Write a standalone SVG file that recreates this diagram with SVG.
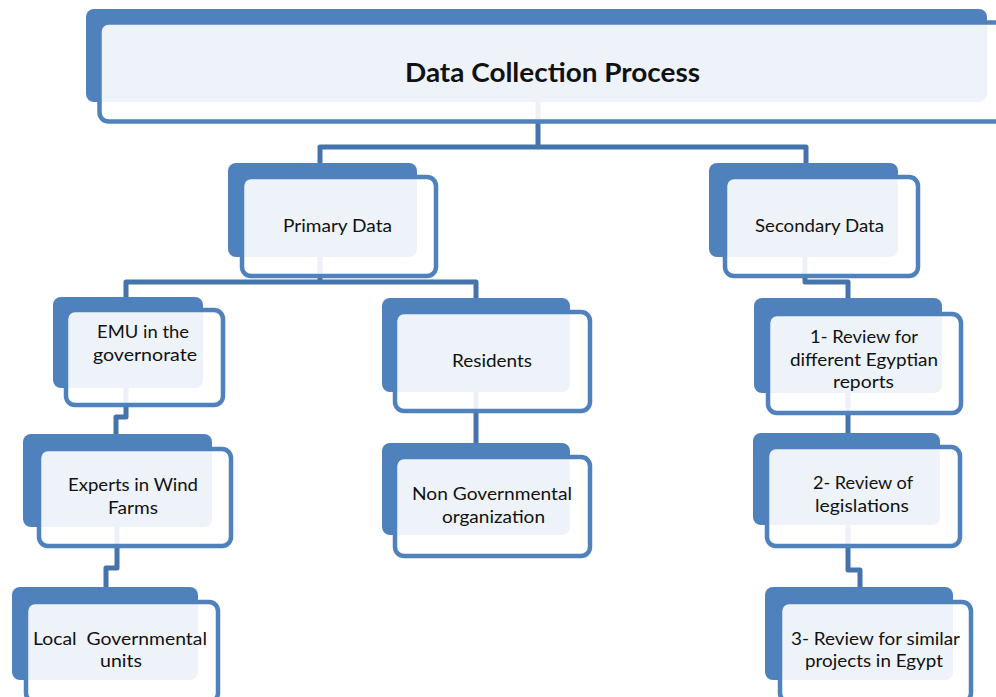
<svg xmlns="http://www.w3.org/2000/svg" width="996" height="697" viewBox="0 0 996 697">
  <style>
    .back { fill: #4f81bd; }
    .front { fill: #ffffff; fill-opacity: 0.9; stroke: #4f81bd; stroke-width: 4.5; }
    .lbl { font-family: Lato, "Open Sans", "Liberation Sans", sans-serif; font-size: 18px; fill: #111; text-anchor: middle; }
    .title { font-family: Lato, "Open Sans", "Liberation Sans", sans-serif; font-size: 26px; font-weight: bold; fill: #111; text-anchor: middle; }
    .conn { fill: none; stroke: #4573ab; stroke-width: 5; stroke-linejoin: round; }
  </style>
  <rect width="996" height="697" fill="#ffffff"/>

  <!-- connectors (drawn first so the translucent card faces sit over them) -->
  <g id="connectors" class="conn">
    <path d="M538,102 V147 M320,163 V147 H806 V163"/>
    <path d="M320,257 V282 M126,297 V282 H476 V298"/>
    <path d="M476,392 V443"/>
    <path d="M805,257 V282 H848 V298"/>
    <path d="M848,393 V433"/>
    <path d="M848,525 V570 H860 V587"/>
    <path d="M126,388 V417 H116 V434"/>
    <path d="M117,527 V568 H106 V587"/>
  </g>

  <g id="node-root">
    <rect class="back" x="86" y="9" width="901" height="93" rx="8"/>
    <rect class="front" x="99.5" y="22.5" width="920" height="99" rx="9"/>
    <text class="title" x="552.5" y="82" textLength="295" lengthAdjust="spacingAndGlyphs">Data Collection Process</text>
  </g>

  <g id="node-primary">
    <rect class="back" x="228" y="163" width="189" height="94" rx="8"/>
    <rect class="front" x="242" y="177" width="194" height="99" rx="9"/>
    <text class="lbl" x="337.5" y="232" textLength="109" lengthAdjust="spacingAndGlyphs">Primary Data</text>
  </g>

  <g id="node-secondary">
    <rect class="back" x="709" y="163" width="189" height="94" rx="8"/>
    <rect class="front" x="725" y="177" width="193" height="99" rx="9"/>
    <text class="lbl" x="819.5" y="232" textLength="129" lengthAdjust="spacingAndGlyphs">Secondary Data</text>
  </g>

  <g id="node-emu">
    <rect class="back" x="53" y="297" width="150" height="91" rx="8"/>
    <rect class="front" x="66" y="310" width="157" height="95" rx="9"/>
    <text class="lbl" x="143" y="338" textLength="92" lengthAdjust="spacingAndGlyphs">EMU in the</text>
    <text class="lbl" x="145" y="361" textLength="104" lengthAdjust="spacingAndGlyphs">governorate</text>
  </g>

  <g id="node-experts">
    <rect class="back" x="23" y="434" width="189" height="93" rx="8"/>
    <rect class="front" x="39" y="449" width="192" height="97" rx="9"/>
    <text class="lbl" x="133" y="491" textLength="130" lengthAdjust="spacingAndGlyphs">Experts in Wind</text>
    <text class="lbl" x="133" y="514" textLength="50" lengthAdjust="spacingAndGlyphs">Farms</text>
  </g>

  <g id="node-local">
    <rect class="back" x="12" y="587" width="186" height="93" rx="8"/>
    <rect class="front" x="26" y="602" width="192" height="100" rx="9"/>
    <text class="lbl" x="120" y="645" textLength="174" lengthAdjust="spacingAndGlyphs" xml:space="preserve">Local  Governmental</text>
    <text class="lbl" x="121" y="667" textLength="42" lengthAdjust="spacingAndGlyphs">units</text>
  </g>

  <g id="node-residents">
    <rect class="back" x="382" y="298" width="188" height="94" rx="8"/>
    <rect class="front" x="395" y="312" width="195" height="99" rx="9"/>
    <text class="lbl" x="492" y="367" textLength="80" lengthAdjust="spacingAndGlyphs">Residents</text>
  </g>

  <g id="node-ngo">
    <rect class="back" x="382" y="443" width="188" height="92" rx="8"/>
    <rect class="front" x="395" y="457" width="195" height="99" rx="9"/>
    <text class="lbl" x="492" y="500" textLength="160" lengthAdjust="spacingAndGlyphs">Non Governmental</text>
    <text class="lbl" x="493.5" y="523" textLength="103" lengthAdjust="spacingAndGlyphs">organization</text>
  </g>

  <g id="node-review1">
    <rect class="back" x="754" y="298" width="188" height="95" rx="8"/>
    <rect class="front" x="768" y="314" width="193" height="99" rx="9"/>
    <text class="lbl" x="864" y="343" textLength="108" lengthAdjust="spacingAndGlyphs">1- Review for</text>
    <text class="lbl" x="864" y="366" textLength="148" lengthAdjust="spacingAndGlyphs">different Egyptian</text>
    <text class="lbl" x="863.5" y="388" textLength="61" lengthAdjust="spacingAndGlyphs">reports</text>
  </g>

  <g id="node-review2">
    <rect class="back" x="753" y="433" width="187" height="92" rx="8"/>
    <rect class="front" x="767" y="447" width="193" height="99" rx="9"/>
    <text class="lbl" x="863" y="489" textLength="100" lengthAdjust="spacingAndGlyphs">2- Review of</text>
    <text class="lbl" x="862" y="512" textLength="94" lengthAdjust="spacingAndGlyphs">legislations</text>
  </g>

  <g id="node-review3">
    <rect class="back" x="765" y="587" width="188" height="93" rx="8"/>
    <rect class="front" x="780" y="602" width="191" height="100" rx="9"/>
    <text class="lbl" x="875.5" y="645" textLength="169" lengthAdjust="spacingAndGlyphs">3- Review for similar</text>
    <text class="lbl" x="874" y="667" textLength="138" lengthAdjust="spacingAndGlyphs">projects in Egypt</text>
  </g>
</svg>
